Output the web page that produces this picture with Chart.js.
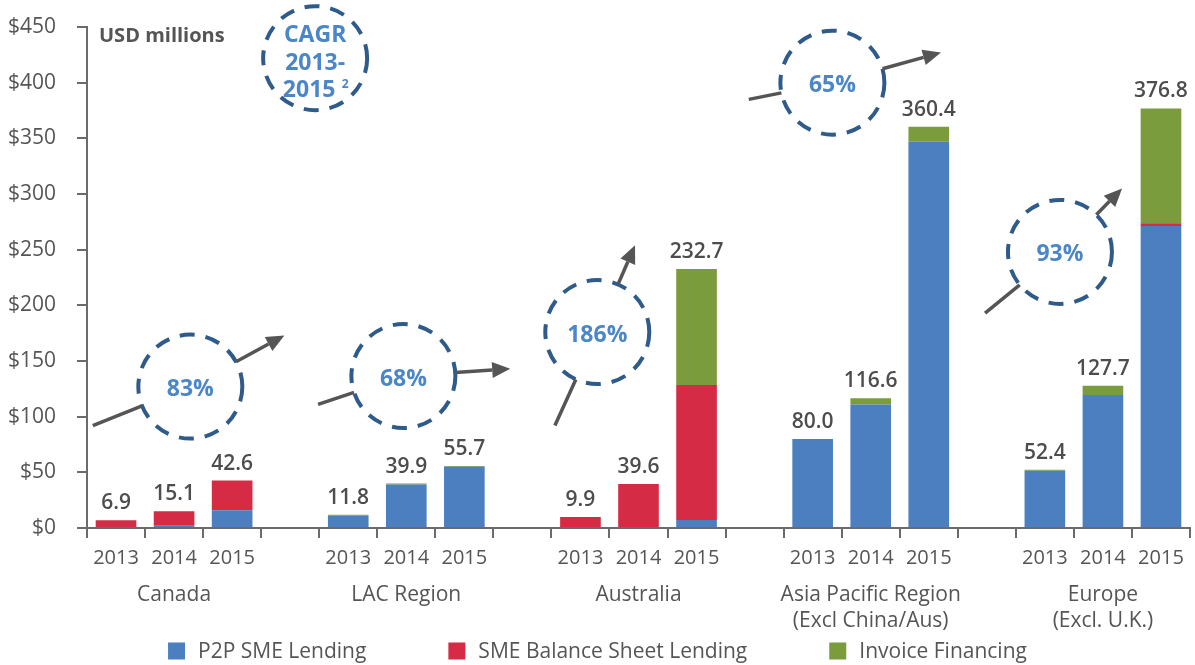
<!DOCTYPE html>
<html>
<head>
<meta charset="utf-8">
<title>SME lending by region</title>
<script src="https://cdn.jsdelivr.net/npm/chart.js@4.4.1/dist/chart.umd.min.js"></script>
<style>
  html, body { margin: 0; padding: 0; background: #fff; }
  #wrap { width: 1195px; height: 665px; position: relative; }
</style>
</head>
<body>
<div id="wrap"><canvas id="chart"></canvas></div>
<script>
// categories: three years per region, blank columns between regions
const yearLabels = ['2013', '2014', '2015', '', '2013', '2014', '2015', '', '2013', '2014', '2015', '',
                    '2013', '2014', '2015', '', '2013', '2014', '2015'];
const regionLabels = ['', 'Canada', '', '', '', 'LAC Region', '', '', '', 'Australia', '', '', '',
                      ['Asia Pacific Region', '(Excl China/Aus)'], '', '', '', ['Europe', '(Excl. U.K.)'], ''];

// USD millions
const p2pLending          = [0, 2, 16, null, 11, 39, 55, null, 0, 0, 7.2, null, 80, 111, 347, null, 51.5, 119.5, 271.3];
const balanceSheetLending = [6.9, 13.1, 26.6, null, 0, 0, 0, null, 9.9, 39.6, 121.3, null, 0, 0, 0, null, 0, 0, 2.5];
const invoiceFinancing    = [0, 0, 0, null, 0.8, 0.9, 0.7, null, 0, 0, 104.2, null, 0, 5.6, 13.4, null, 0.9, 8.2, 103];
const totals              = [6.9, 15.1, 42.6, null, 11.8, 39.9, 55.7, null, 9.9, 39.6, 232.7, null,
                             80.0, 116.6, 360.4, null, 52.4, 127.7, 376.8];

const yTicks = [0, 50, 100, 150, 200, 250, 300, 350, 400, 450];

// CAGR bubbles, placed in chart units (category index, USD m)
const cagrNotes = [
    { text: '83%',  center: [1.28, 127],  from: [-0.4, 92],  to: [2.9, 173] },
    { text: '68%',  center: [4.95, 136.5], from: [3.48, 111], to: [6.79, 143] },
    { text: '186%', center: [8.29, 176],  from: [7.56, 92],  to: [8.94, 254] },
    { text: '65%',  center: [12.34, 400], from: [10.9, 385], to: [14.21, 427] },
    { text: '93%',  center: [16.26, 248], from: [14.97, 193], to: [17.33, 305] }
];
const cagrHeader = { lines: ['CAGR', '2013-', '2015'], center: [3.43, 422] };

const FONT = "'Open Sans', sans-serif";
const TEXT = '#555555';
const AXIS = '#6b6b6b';
const CIRCLE = '#2f5b8b';
const PCT = '#4a86c8';
const R = 52;

const drawDashedCircle = (ctx, cx, cy) => {
    ctx.save();
    ctx.strokeStyle = CIRCLE;
    ctx.lineWidth = 4;
    ctx.setLineDash([15, 11]);
    ctx.beginPath();
    ctx.arc(cx, cy, R, 0, Math.PI * 2);
    ctx.stroke();
    ctx.restore();
};

const drawLine = (ctx, x1, y1, x2, y2) => {
    ctx.beginPath();
    ctx.moveTo(x1, y1);
    ctx.lineTo(x2, y2);
    ctx.stroke();
};

const drawArrow = (ctx, x1, y1, x2, y2) => {
    const a = Math.atan2(y2 - y1, x2 - x1);
    const len = 18, half = 8;
    const bx = x2 - len * Math.cos(a), by = y2 - len * Math.sin(a);
    drawLine(ctx, x1, y1, bx, by);
    ctx.beginPath();
    ctx.moveTo(x2, y2);
    ctx.lineTo(bx + half * Math.sin(a), by - half * Math.cos(a));
    ctx.lineTo(bx - half * Math.sin(a), by + half * Math.cos(a));
    ctx.closePath();
    ctx.fill();
};

const cagrPlugin = {
    id: 'cagr',
    afterDatasetsDraw(chart) {
        const { ctx, scales: { x, y }, chartArea } = chart;
        const toPx = p => [x.getPixelForValue(p[0]), y.getPixelForValue(p[1])];
        ctx.save();

        // unit note
        ctx.fillStyle = TEXT;
        ctx.font = `bold 20px ${FONT}`;
        ctx.textAlign = 'left';
        ctx.textBaseline = 'middle';
        ctx.fillText('USD millions', chartArea.left + 12, chartArea.top + 9);

        // header bubble
        const [hx, hy] = toPx(cagrHeader.center);
        drawDashedCircle(ctx, hx, hy);
        ctx.fillStyle = PCT;
        ctx.font = `bold 23px ${FONT}`;
        ctx.textAlign = 'center';
        ctx.fillText(cagrHeader.lines[0], hx, hy - 23);
        ctx.fillText(cagrHeader.lines[1], hx, hy + 5);
        ctx.fillText(cagrHeader.lines[2], hx - 6, hy + 32);
        ctx.font = `bold 12px ${FONT}`;
        ctx.fillText('2', hx + 30, hy + 26);

        cagrNotes.forEach(n => {
            const [cx, cy] = toPx(n.center);
            const [sx, sy] = toPx(n.from);
            const [ex, ey] = toPx(n.to);
            drawDashedCircle(ctx, cx, cy);

            ctx.strokeStyle = '#555555';
            ctx.fillStyle = '#555555';
            ctx.lineWidth = 3.5;
            let a = Math.atan2(sy - cy, sx - cx);
            drawLine(ctx, sx, sy, cx + R * Math.cos(a), cy + R * Math.sin(a));
            a = Math.atan2(ey - cy, ex - cx);
            drawArrow(ctx, cx + R * Math.cos(a), cy + R * Math.sin(a), ex, ey);

            ctx.fillStyle = PCT;
            ctx.font = `bold 23px ${FONT}`;
            ctx.textAlign = 'center';
            ctx.textBaseline = 'middle';
            ctx.fillText(n.text, cx, cy + 3);
        });
        ctx.restore();
    }
};

// totals above each stack
const totalsPlugin = {
    id: 'totals',
    afterDatasetsDraw(chart) {
        const { ctx, scales: { x, y } } = chart;
        ctx.save();
        ctx.fillStyle = '#4d4d4d';
        ctx.font = `600 21px ${FONT}`;
        ctx.textAlign = 'center';
        ctx.textBaseline = 'middle';
        totals.forEach((t, i) => {
            if (t === null) return;
            ctx.fillText(t.toFixed(1), x.getPixelForValue(i), y.getPixelForValue(t) - 17);
        });
        ctx.restore();
    }
};

// legend along the bottom edge
const legendPlugin = {
    id: 'bottomLegend',
    afterDraw(chart) {
        const { ctx } = chart;
        const box = 17, gapText = 13, gapItem = 82;
        ctx.save();
        ctx.font = `21px ${FONT}`;
        ctx.textBaseline = 'middle';
        ctx.textAlign = 'left';
        const items = chart.data.datasets.map(ds => ({
            label: ds.label, color: ds.backgroundColor,
            w: box + gapText + ctx.measureText(ds.label).width
        }));
        const total = items.reduce((s, it) => s + it.w, 0) + gapItem * (items.length - 1);
        let cx = (chart.width - total) / 2;
        const cy = chart.height - 14;
        items.forEach(it => {
            ctx.fillStyle = it.color;
            ctx.fillRect(cx, cy - box / 2, box, box);
            ctx.fillStyle = TEXT;
            ctx.fillText(it.label, cx + box + gapText, cy + 1);
            cx += it.w + gapItem;
        });
        ctx.restore();
    }
};

new Chart(document.getElementById('chart'), {
    type: 'bar',
    data: {
        labels: yearLabels,
        datasets: [
            { label: 'P2P SME Lending', data: p2pLending, backgroundColor: '#4b7fbf' },
            { label: 'SME Balance Sheet Lending', data: balanceSheetLending, backgroundColor: '#d52b44' },
            { label: 'Invoice Financing', data: invoiceFinancing, backgroundColor: '#7a9c3c' }
        ]
    },
    options: {
        responsive: true,
        maintainAspectRatio: false,
        animation: false,
        layout: { padding: { top: 27, right: 5, bottom: 33, left: 0 } },
        datasets: { bar: { barPercentage: 0.7, categoryPercentage: 1 } },
        plugins: {
            legend: { display: false },
            tooltip: { enabled: false }
        },
        scales: {
            x: {
                stacked: true,
                offset: true,
                afterFit: axis => { axis.height = 42; },
                border: { color: AXIS, width: 2 },
                grid: { offset: true, drawOnChartArea: false, drawTicks: true, tickLength: 10, color: AXIS, lineWidth: 2 },
                ticks: { color: TEXT, font: { family: FONT, size: 20 }, padding: 8, autoSkip: false, maxRotation: 0 }
            },
            x2: {
                type: 'category',
                position: 'bottom',
                labels: regionLabels,
                offset: true,
                afterFit: axis => { axis.height = 62; },
                border: { display: false },
                grid: { display: false, drawTicks: false },
                ticks: { color: TEXT, font: { family: FONT, size: 21, lineHeight: 1.25 }, padding: 12, autoSkip: false, maxRotation: 0 }
            },
            y: {
                stacked: true,
                min: 0,
                max: 450,
                afterFit: axis => {
                    // the layout padding already leaves room for the end labels
                    axis.width = 87;
                    axis.paddingTop = 0;
                    axis.paddingBottom = 0;
                },
                afterBuildTicks: axis => { axis.ticks = yTicks.map(v => ({ value: v })); },
                border: { color: AXIS, width: 2 },
                grid: { drawOnChartArea: false, drawTicks: true, tickLength: 10, color: AXIS, lineWidth: 2 },
                ticks: {
                    color: TEXT,
                    font: { family: FONT, size: 21 },
                    padding: 21,
                    callback: v => '$' + v
                }
            }
        }
    },
    plugins: [totalsPlugin, cagrPlugin, legendPlugin]
});
</script>
</body>
</html>
